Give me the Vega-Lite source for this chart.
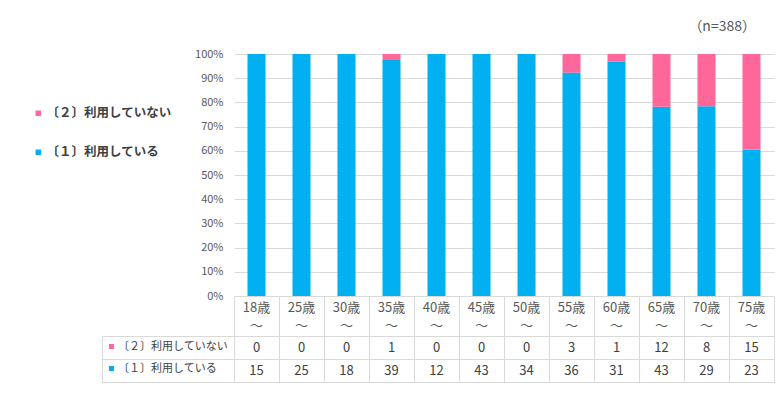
{
  "$schema": "https://vega.github.io/schema/vega-lite/v6.json",
  "autosize": {"type": "pad"},
  "padding": {"left": 32, "top": 20, "right": 0, "bottom": 0},
  "background": "white",
  "config": {
    "font": "Noto Sans CJK JP",
    "concat": {"spacing": 0}
  },
  "datasets": {
    "main": [
      {"age": "18歳～", "group": "〔１〕利用している", "count": 15, "ord": 1},
      {"age": "25歳～", "group": "〔１〕利用している", "count": 25, "ord": 1},
      {"age": "30歳～", "group": "〔１〕利用している", "count": 18, "ord": 1},
      {"age": "35歳～", "group": "〔１〕利用している", "count": 39, "ord": 1},
      {"age": "40歳～", "group": "〔１〕利用している", "count": 12, "ord": 1},
      {"age": "45歳～", "group": "〔１〕利用している", "count": 43, "ord": 1},
      {"age": "50歳～", "group": "〔１〕利用している", "count": 34, "ord": 1},
      {"age": "55歳～", "group": "〔１〕利用している", "count": 36, "ord": 1},
      {"age": "60歳～", "group": "〔１〕利用している", "count": 31, "ord": 1},
      {"age": "65歳～", "group": "〔１〕利用している", "count": 43, "ord": 1},
      {"age": "70歳～", "group": "〔１〕利用している", "count": 29, "ord": 1},
      {"age": "75歳～", "group": "〔１〕利用している", "count": 23, "ord": 1},
      {"age": "18歳～", "group": "〔２〕利用していない", "count": 0, "ord": 2},
      {"age": "25歳～", "group": "〔２〕利用していない", "count": 0, "ord": 2},
      {"age": "30歳～", "group": "〔２〕利用していない", "count": 0, "ord": 2},
      {"age": "35歳～", "group": "〔２〕利用していない", "count": 1, "ord": 2},
      {"age": "40歳～", "group": "〔２〕利用していない", "count": 0, "ord": 2},
      {"age": "45歳～", "group": "〔２〕利用していない", "count": 0, "ord": 2},
      {"age": "50歳～", "group": "〔２〕利用していない", "count": 0, "ord": 2},
      {"age": "55歳～", "group": "〔２〕利用していない", "count": 3, "ord": 2},
      {"age": "60歳～", "group": "〔２〕利用していない", "count": 1, "ord": 2},
      {"age": "65歳～", "group": "〔２〕利用していない", "count": 12, "ord": 2},
      {"age": "70歳～", "group": "〔２〕利用していない", "count": 8, "ord": 2},
      {"age": "75歳～", "group": "〔２〕利用していない", "count": 15, "ord": 2}
    ],
    "groups": [
      {"group": "〔２〕利用していない"},
      {"group": "〔１〕利用している"}
    ]
  },
  "columns": 2,
  "bounds": "flush",
  "spacing": {"row": 40, "column": 0},
  "resolve": {"legend": {"color": "independent"}, "scale": {"x": "independent", "y": "independent"}},
  "concat": [
    {
      "width": 132,
      "height": 242,
      "view": {"stroke": null},
      "data": {"name": "groups"},
      "mark": {"type": "square", "opacity": 0},
      "encoding": {
        "color": {
          "field": "group",
          "type": "nominal",
          "scale": {"domain": ["〔２〕利用していない", "〔１〕利用している"], "range": ["#ff6699", "#00b0f0"]},
          "legend": {
            "orient": "none",
            "legendX": -70,
            "legendY": 53,
            "title": null,
            "symbolType": "square",
            "symbolSize": 30,
            "symbolOpacity": 1,
            "symbolStrokeWidth": 0,
            "labelFontSize": 12.5,
            "labelFontWeight": "bold",
            "labelColor": "#404040",
            "labelOffset": 2,
            "labelLimit": 0,
            "rowPadding": 26
          }
        }
      }
    },
    {
      "width": 540,
      "height": 242,
      "view": {"stroke": null},
      "data": {"name": "main"},
      "title": {"text": "（n=388）", "anchor": "end", "fontSize": 14, "fontWeight": "normal", "color": "#595959", "offset": 14, "dx": -18},
      "mark": {"type": "bar", "width": {"band": 0.4}},
      "encoding": {
        "x": {
          "field": "age",
          "type": "nominal",
          "sort": null,
          "scale": {"type": "band", "paddingInner": 0, "paddingOuter": 0},
          "axis": {
            "title": null,
            "orient": "bottom",
            "domain": false,
            "ticks": false,
            "grid": false,
            "labelAngle": 0,
            "labelExpr": "[replace(datum.label, '～', ''), '～']",
            "labelLineHeight": 18,
            "labelFontSize": 13,
            "labelColor": "#595959",
            "labelPadding": 5,
            "labelBaseline": "top"
          }
        },
        "y": {
          "field": "count",
          "type": "quantitative",
          "stack": "normalize",
          "scale": {"domain": [0, 1]},
          "axis": {
            "title": null,
            "format": ".0%",
            "values": [0, 0.1, 0.2, 0.3, 0.4, 0.5, 0.6, 0.7, 0.8, 0.9, 1],
            "domain": false,
            "ticks": false,
            "grid": true,
            "gridColor": "#d9d9d9",
            "labelColor": "#595959",
            "labelFontSize": 11,
            "labelPadding": 11
          }
        },
        "color": {
          "field": "group",
          "type": "nominal",
          "scale": {"domain": ["〔２〕利用していない", "〔１〕利用している"], "range": ["#ff6699", "#00b0f0"]},
          "legend": null
        },
        "order": {"field": "ord", "type": "quantitative"}
      }
    },
    {
      "width": 132,
      "height": 46,
      "view": {"stroke": "#d9d9d9"},
      "data": {"name": "groups"},
      "mark": {"type": "square", "opacity": 0},
      "encoding": {
        "y": {
          "field": "group",
          "type": "nominal",
          "sort": ["〔２〕利用していない", "〔１〕利用している"],
          "scale": {"type": "band", "paddingInner": 0, "paddingOuter": 0},
          "axis": {"title": null, "labels": false, "ticks": false, "domain": false, "grid": true, "gridColor": "#d9d9d9", "bandPosition": 0}
        },
        "color": {
          "field": "group",
          "type": "nominal",
          "scale": {"domain": ["〔２〕利用していない", "〔１〕利用している"], "range": ["#ff6699", "#00b0f0"]},
          "legend": {
            "orient": "none",
            "legendX": 4,
            "legendY": 5,
            "title": null,
            "symbolType": "square",
            "symbolSize": 25,
            "symbolOpacity": 1,
            "symbolStrokeWidth": 0,
            "labelFontSize": 11,
            "labelColor": "#404040",
            "labelOffset": 1,
            "labelLimit": 0,
            "rowPadding": 10
          }
        }
      }
    },
    {
      "width": 540,
      "height": 46,
      "view": {"stroke": "#d9d9d9"},
      "data": {"name": "main"},
      "mark": {"type": "text", "fontSize": 13, "color": "#404040"},
      "encoding": {
        "x": {
          "field": "age",
          "type": "nominal",
          "sort": null,
          "scale": {"type": "band", "paddingInner": 0, "paddingOuter": 0},
          "axis": {
            "title": null,
            "orient": "top",
            "labels": false,
            "domain": false,
            "ticks": true,
            "tickSize": 40,
            "tickColor": "#d9d9d9",
            "bandPosition": 1,
            "tickExtra": true,
            "grid": true,
            "gridColor": "#d9d9d9"
          }
        },
        "y": {
          "field": "group",
          "type": "nominal",
          "sort": ["〔２〕利用していない", "〔１〕利用している"],
          "scale": {"type": "band", "paddingInner": 0, "paddingOuter": 0},
          "axis": {"title": null, "labels": false, "ticks": false, "domain": false, "grid": true, "gridColor": "#d9d9d9", "bandPosition": 0}
        },
        "text": {"field": "count", "type": "quantitative"}
      }
    }
  ]
}
